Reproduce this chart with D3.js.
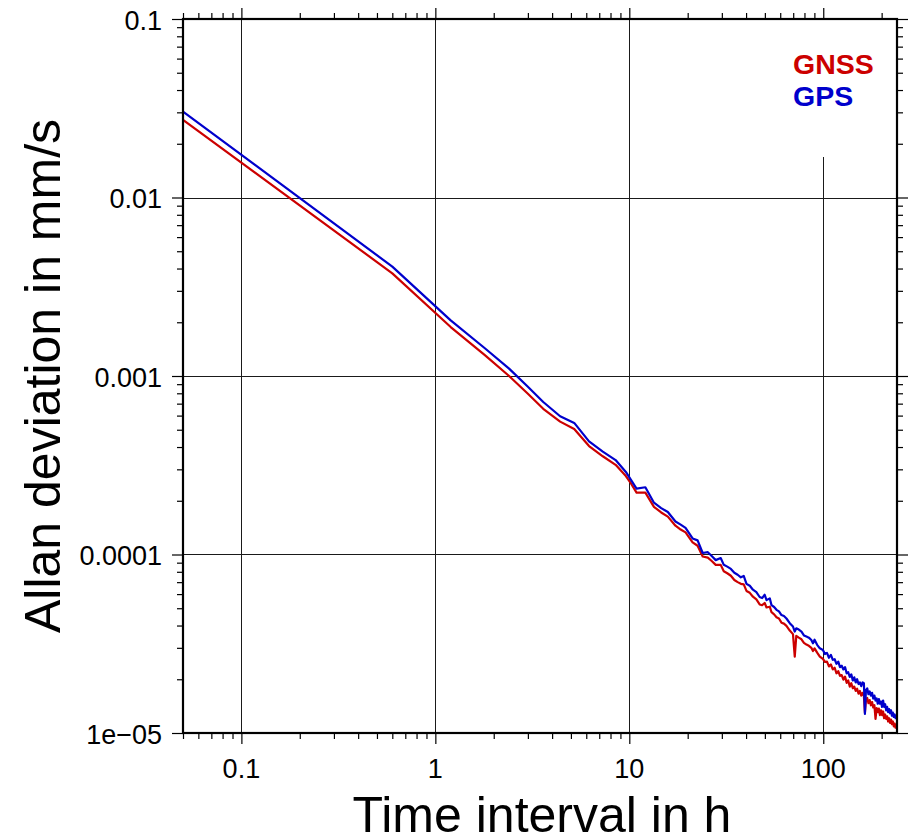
<!DOCTYPE html>
<html><head><meta charset="utf-8">
<script src="https://cdn.jsdelivr.net/npm/d3@7"></script>
<style>body{margin:0;background:#fff}</style>
</head><body>
<svg id="chart" width="913" height="839"></svg>
<script>
// Time interval (hours)
const tau = [0.05, 0.6, 1.2, 1.8, 2.4, 3.0, 3.6, 4.4, 5.2, 6.2, 7.3, 8.5, 9.6, 10.2, 10.9, 12.1, 13.4, 14.6, 15.8, 17.3, 18.4, 19.5, 21.2, 22.5, 23.9, 25.4, 26.6, 27.9, 29.6, 30.7, 32.0, 33.4, 34.8, 36.2, 37.6, 38.9, 40.2, 41.8, 43.4, 45.2, 47.0, 48.4, 49.9, 51.0, 53.0, 54.1, 55.8, 57.4, 59.1, 60.9, 62.7, 64.6, 67.2, 69.8, 71.3, 72.6, 74.8, 77.2, 79.5, 81.9, 84.3, 86.8, 88.5, 90.2, 93.0, 96.0,
  99.6, 102, 104.5, 107, 109.5, 112, 114.5, 117, 119.5, 122, 124.5, 127, 129.5, 132, 134.5, 137, 139.5, 142, 144.5, 147, 149.5, 152, 154.5, 157, 159.5, 162, 164, 166, 168.5, 171, 173.5, 176, 178.5, 181, 183.5, 186, 188.5, 191, 193.5, 196, 198.5, 201, 203.5, 206, 208.5, 211, 213.5, 216, 218.5, 221, 223.5, 226, 228.5, 231, 233.5, 236, 238.5, 240];

// Allan deviation (mm/s)
const gps = [3.03e-2, 4.10e-3, 2.05e-3, 1.43e-3, 1.10e-3, 8.70e-4, 7.15e-4, 5.95e-4, 5.46e-4, 4.30e-4, 3.77e-4, 3.38e-4, 2.90e-4, 2.62e-4, 2.34e-4, 2.38e-4, 1.95e-4, 1.82e-4, 1.73e-4, 1.53e-4, 1.47e-4, 1.41e-4, 1.23e-4, 1.20e-4, 1.02e-4, 1.03e-4, 9.80e-5, 9.30e-5, 9.55e-5, 8.75e-5, 8.55e-5, 8.30e-5, 7.90e-5, 7.70e-5, 7.45e-5, 7.58e-5, 6.85e-5, 6.68e-5, 6.35e-5, 6.15e-5, 5.78e-5, 5.70e-5, 5.95e-5, 5.55e-5, 5.68e-5, 5.20e-5, 5.08e-5, 4.90e-5, 4.80e-5, 4.58e-5, 4.52e-5, 4.38e-5, 4.12e-5, 3.95e-5, 3.70e-5, 3.86e-5, 3.80e-5, 3.70e-5, 3.52e-5, 3.47e-5, 3.42e-5, 3.32e-5, 3.18e-5, 3.33e-5, 3.12e-5, 2.98e-5,
  2.92e-5, 2.77e-5, 2.81e-5, 2.64e-5, 2.74e-5, 2.57e-5, 2.59e-5, 2.44e-5, 2.51e-5, 2.34e-5, 2.38e-5, 2.27e-5, 2.34e-5, 2.16e-5, 2.19e-5, 2.06e-5, 2.13e-5, 1.97e-5, 2.05e-5, 1.92e-5, 2.00e-5, 1.88e-5, 1.92e-5, 1.83e-5, 1.92e-5, 1.90e-5, 1.28e-5, 1.74e-5, 1.78e-5, 1.65e-5, 1.71e-5, 1.62e-5, 1.68e-5, 1.56e-5, 1.62e-5, 1.52e-5, 1.56e-5, 1.46e-5, 1.55e-5, 1.46e-5, 1.50e-5, 1.40e-5, 1.52e-5, 1.40e-5, 1.45e-5, 1.34e-5, 1.40e-5, 1.31e-5, 1.36e-5, 1.29e-5, 1.34e-5, 1.25e-5, 1.30e-5, 1.23e-5, 1.27e-5, 1.21e-5, 1.24e-5, 1.21e-5];

const gnss = [2.72e-2, 3.76e-3, 1.88e-3, 1.31e-3, 1.00e-3, 7.95e-4, 6.55e-4, 5.55e-4, 5.05e-4, 4.05e-4, 3.55e-4, 3.18e-4, 2.75e-4, 2.50e-4, 2.22e-4, 2.22e-4, 1.85e-4, 1.72e-4, 1.63e-4, 1.45e-4, 1.38e-4, 1.33e-4, 1.17e-4, 1.12e-4, 9.75e-5, 9.60e-5, 9.20e-5, 8.75e-5, 8.75e-5, 8.05e-5, 7.85e-5, 7.60e-5, 7.20e-5, 7.00e-5, 6.85e-5, 6.80e-5, 6.25e-5, 6.10e-5, 5.80e-5, 5.60e-5, 5.25e-5, 5.20e-5, 5.35e-5, 5.05e-5, 5.10e-5, 4.75e-5, 4.62e-5, 4.45e-5, 4.38e-5, 4.15e-5, 4.10e-5, 3.98e-5, 3.75e-5, 3.58e-5, 2.68e-5, 3.50e-5, 3.42e-5, 3.35e-5, 3.20e-5, 3.13e-5, 3.08e-5, 3.00e-5, 2.88e-5, 2.98e-5, 2.82e-5, 2.68e-5,
  2.60e-5, 2.50e-5, 2.51e-5, 2.36e-5, 2.42e-5, 2.27e-5, 2.32e-5, 2.16e-5, 2.22e-5, 2.09e-5, 2.11e-5, 1.99e-5, 2.07e-5, 1.91e-5, 1.97e-5, 1.82e-5, 1.90e-5, 1.78e-5, 1.82e-5, 1.72e-5, 1.77e-5, 1.66e-5, 1.72e-5, 1.62e-5, 1.68e-5, 1.61e-5, 1.30e-5, 1.53e-5, 1.57e-5, 1.47e-5, 1.53e-5, 1.43e-5, 1.49e-5, 1.39e-5, 1.43e-5, 1.20e-5, 1.38e-5, 1.31e-5, 1.37e-5, 1.26e-5, 1.34e-5, 1.26e-5, 1.32e-5, 1.21e-5, 1.27e-5, 1.20e-5, 1.24e-5, 1.16e-5, 1.21e-5, 1.14e-5, 1.19e-5, 1.12e-5, 1.16e-5, 1.09e-5, 1.13e-5, 1.07e-5, 1.10e-5, 1.08e-5];

const xDomain = [0.05, 240];
const yDomain = [1e-5, 0.1];
const xMajorTicks = [0.1, 1, 10, 100];
const xTickLabels = ["0.1", "1", "10", "100"];
const yMajorTicks = [0.1, 0.01, 0.001, 0.0001, 0.00001];
const yTickLabels = ["0.1", "0.01", "0.001", "0.0001", "1e\u221205"];
const seriesNames = ["GNSS", "GPS"];
const seriesColors = ["#cc0000", "#0000cc"];
const xTitle = "Time interval in h";
const yTitle = "Allan deviation in mm/s";

const FONT = "'Liberation Sans', Arial, Helvetica, sans-serif";
const L = 183, R = 897, T = 19, B = 733;

const svg = d3.select("#chart");
const x = d3.scaleLog().domain(xDomain).range([L, R]);
const y = d3.scaleLog().domain(yDomain).range([B, T]);

const isDecade = v => Math.abs(Math.log10(v) - Math.round(Math.log10(v))) < 1e-9;
const xMinor = x.ticks().filter(v => !isDecade(v));
const yMinor = y.ticks().filter(v => !isDecade(v));
const px = v => Math.round(x(v)) + 0.5;
const py = v => Math.round(y(v)) + 0.5;

// grid
const grid = svg.append("g").attr("stroke", "#1a1a1a").attr("stroke-width", 1).attr("fill", "none");
xMajorTicks.forEach(v => grid.append("line").attr("x1", px(v)).attr("x2", px(v)).attr("y1", T).attr("y2", B));
yMajorTicks.filter(v => v < 0.1 && v > 1e-5).forEach(v => grid.append("line").attr("y1", py(v)).attr("y2", py(v)).attr("x1", L).attr("x2", R));

// legend background
svg.append("rect").attr("x", 770).attr("y", T + 1).attr("width", R - 771).attr("height", 137).attr("fill", "#fff");

// clip
svg.append("clipPath").attr("id", "clip").append("rect").attr("x", L).attr("y", T).attr("width", R - L).attr("height", B - T);

const line = d3.line().x((d, i) => x(tau[i])).y(d => y(d));
const plot = svg.append("g").attr("clip-path", "url(#clip)");
[gnss, gps].forEach((s, k) => {
  plot.append("path").datum(s).attr("d", line).attr("fill", "none")
    .attr("stroke", seriesColors[k]).attr("stroke-width", 2.2).attr("stroke-linejoin", "round");
});

// frame
svg.append("rect").attr("x", L).attr("y", T).attr("width", R - L).attr("height", B - T)
  .attr("fill", "none").attr("stroke", "#000").attr("stroke-width", 2.2);

// axes with ticks
function axisTicks(axisFn, scale, transform) {
  const major = scale === x ? xMajorTicks : yMajorTicks;
  const minor = scale === x ? xMinor : yMinor;
  const g1 = svg.append("g").attr("transform", transform)
    .call(axisFn(scale).tickValues(major).tickSize(11).tickFormat(""));
  const g2 = svg.append("g").attr("transform", transform)
    .call(axisFn(scale).tickValues(minor).tickSize(6).tickFormat(""));
  [g1, g2].forEach(g => {
    g.select(".domain").remove();
    g.selectAll("line").attr("stroke", "#000").attr("stroke-width", 1.2);
  });
}
axisTicks(d3.axisTop, x, `translate(0,${T})`);
axisTicks(d3.axisBottom, x, `translate(0,${B})`);
axisTicks(d3.axisLeft, y, `translate(${L},0)`);
axisTicks(d3.axisRight, y, `translate(${R},0)`);

// tick labels
const lab = svg.append("g").attr("font-family", FONT).attr("font-size", 27).attr("fill", "#000");
xMajorTicks.forEach((v, i) => lab.append("text").attr("x", x(v)).attr("y", 778).attr("text-anchor", "middle").text(xTickLabels[i]));
yMajorTicks.forEach((v, i) => lab.append("text").attr("x", 162).attr("y", y(v) + 10.5).attr("text-anchor", "end").text(yTickLabels[i]));

// titles
svg.append("text").attr("x", (L + R) / 2 + 2).attr("y", 832).attr("text-anchor", "middle")
  .attr("font-family", FONT).attr("font-size", 50).text(xTitle);
svg.append("text").attr("transform", `translate(60,${(T + B) / 2}) rotate(-90)`).attr("text-anchor", "middle")
  .attr("font-family", FONT).attr("font-size", 50).text(yTitle);

// legend
seriesNames.forEach((n, i) => {
  svg.append("text").attr("x", 793).attr("y", 74 + i * 32).attr("font-family", FONT)
    .attr("font-weight", "bold").attr("font-size", 28.5).attr("fill", seriesColors[i]).text(n);
});
</script>
</body></html>
